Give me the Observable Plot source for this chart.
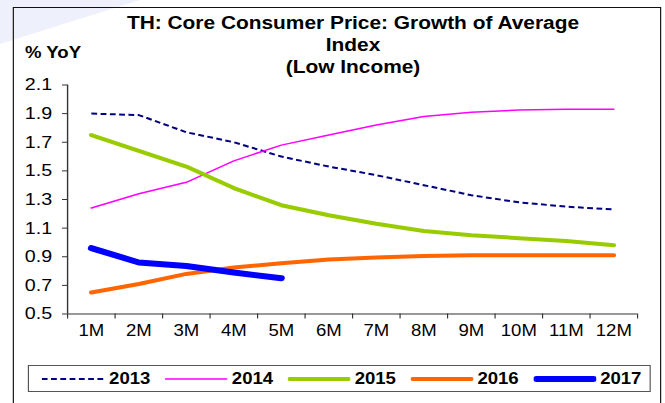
<!DOCTYPE html>
<html>
<head>
<meta charset="utf-8">
<script src="https://cdn.jsdelivr.net/npm/d3@7"></script>
<script src="https://cdn.jsdelivr.net/npm/@observablehq/plot@0.6"></script>
<style>
  html, body { margin: 0; padding: 0; background: #fff; overflow: hidden; }
  #page { position: relative; width: 665px; height: 403px; overflow: hidden; }
  #stage { position: absolute; left: 0; top: 0; height: 403px; transform-origin: 0 0;
           font-family: "Liberation Sans", Arial, sans-serif; color: #000; }
  #frame { position: absolute; top: 6.5px; height: 430px; border: 1.3px solid #111; box-sizing: border-box; }
  #title { position: absolute; left: 0; top: 12px; text-align: center; font-weight: bold;
           font-size: 18px; line-height: 22px; }
  #yoy { position: absolute; top: 43px; font-weight: bold; font-size: 16px; line-height: 19px; }
  #chart { position: absolute; left: 0; top: 0; }
  #legend { position: absolute; top: 365px; height: 27px; border: 1px solid #555; box-sizing: border-box;
            display: flex; align-items: center; font-weight: bold; font-size: 16px; }
  .item { display: flex; align-items: center; }
  .item svg { display: block; }
</style>
</head>
<body>
<div id="page">
  <svg id="wm" width="665" height="403" style="position:absolute;left:0;top:0">
    <polygon points="0,0 140,0 70,22 0,44" fill="#eef1fb"></polygon>
  </svg>
  <div id="stage">
    <div id="frame"></div>
    <div id="title">TH: Core Consumer Price: Growth of Average<br>Index<br>(Low Income)</div>
    <div id="yoy">% YoY</div>
    <div id="chart"></div>
    <div id="legend"></div>
  </div>
</div>
<script>
// ---- data ----
const months = ["1M","2M","3M","4M","5M","6M","7M","8M","9M","10M","11M","12M"];
const years = ["2013","2014","2015","2016","2017"];
const v2013 = [1.90, 1.89, 1.77, 1.70, 1.60, 1.53, 1.47, 1.40, 1.33, 1.28, 1.25, 1.23];
const v2014 = [1.24, 1.34, 1.42, 1.57, 1.68, 1.75, 1.82, 1.88, 1.91, 1.925, 1.93, 1.93];
const v2015 = [1.75, 1.64, 1.53, 1.38, 1.26, 1.19, 1.13, 1.08, 1.05, 1.03, 1.01, 0.98];
const v2016 = [0.65, 0.71, 0.78, 0.825, 0.855, 0.88, 0.895, 0.905, 0.91, 0.91, 0.91, 0.91];
const v2017 = [0.96, 0.86, 0.835, 0.79, 0.75];
const yTicks = [0.5, 0.7, 0.9, 1.1, 1.3, 1.5, 1.7, 1.9, 2.1];

// ---- styles ----
const styles = {
  "2013": {stroke: "#000080", strokeWidth: 2, dash: "5,3", cap: "butt"},
  "2014": {stroke: "#FF00FF", strokeWidth: 1.5, dash: null, cap: "round"},
  "2015": {stroke: "#99CC00", strokeWidth: 4, dash: null, cap: "round"},
  "2016": {stroke: "#FF6600", strokeWidth: 4, dash: null, cap: "round"},
  "2017": {stroke: "#0000FF", strokeWidth: 6, dash: null, cap: "round"}
};
const valuesByYear = {"2013": v2013, "2014": v2014, "2015": v2015, "2016": v2016, "2017": v2017};

// ---- layout (the reference is horizontally stretched) ----
const S = 1.16;
const W = 665 / S;
const stage = document.getElementById("stage");
stage.style.width = W + "px";
stage.style.transform = `scaleX(${S})`;
const frame = document.getElementById("frame");
frame.style.left = (12.5 / S) + "px";
frame.style.width = ((661.5 - 12.5) / S) + "px";
const title = document.getElementById("title");
title.style.width = (2 * 353 / S) + "px";
document.getElementById("yoy").style.left = (25 / S) + "px";

const rows = years.flatMap(yr => valuesByYear[yr].map((v, i) => ({year: yr, m: i + 1, label: months[i], v})));

const chart = Plot.plot({
  width: W,
  height: 403,
  marginLeft: 67 / S,
  marginRight: 28 / S,
  marginTop: 84.5,
  marginBottom: 89.5,
  style: {fontFamily: "'Liberation Sans', Arial, sans-serif", fontSize: "16px", color: "#000", background: "transparent", overflow: "visible"},
  x: {type: "linear", domain: [0.5, months.length + 0.5]},
  y: {domain: [yTicks[0], yTicks[yTicks.length - 1]]},
  marks: [
    Plot.axisY({ticks: yTicks, tickSize: 4.3, tickPadding: 9, tickFormat: d3.format(".1f"), label: null, stroke: "#333", fontSize: 17}),
    Plot.axisX({ticks: d3.range(0, months.length + 1).map(i => i + 0.5), tickSize: 5, tickFormat: () => "", label: null, stroke: "#333"}),
    Plot.axisX({ticks: months.map((m, i) => i + 1), tickSize: 0, tickPadding: 11, tickFormat: i => months[i - 1], label: null, fontSize: 16}),
    Plot.ruleX([0.5], {stroke: "#333", strokeWidth: 1.2}),
    Plot.ruleY([yTicks[0]], {stroke: "#333", strokeWidth: 1.2}),
    ...years.map(yr => {
      const s = styles[yr];
      return Plot.line(rows.filter(d => d.year === yr), {
        x: "m", y: "v", stroke: s.stroke, strokeWidth: s.strokeWidth,
        strokeDasharray: s.dash, strokeLinecap: s.cap, strokeLinejoin: "round"
      });
    })
  ]
});
document.getElementById("chart").appendChild(chart);

// ---- legend ----
const legend = document.getElementById("legend");
legend.style.left = (28 / S) + "px";
legend.style.width = ((651 - 28) / S) + "px";
legend.style.paddingLeft = (13 / S) + "px";
legend.style.gap = (14.5 / S) + "px";
const sw = 63 / S;
for (const yr of years) {
  const s = styles[yr];
  const inset = s.cap === "round" ? s.strokeWidth / 2 / S : 0;
  const item = document.createElement("div");
  item.className = "item";
  item.innerHTML = `<svg width="${sw}" height="10"><line x1="${inset}" x2="${sw - inset}" y1="5" y2="5" stroke="${s.stroke}" stroke-width="${s.strokeWidth}" ${s.dash ? `stroke-dasharray="${s.dash}"` : ""} stroke-linecap="${s.cap}"></line></svg><span style="margin-left:${4 / S}px">${yr}</span>`;
  legend.appendChild(item);
}
</script>
</body>
</html>
